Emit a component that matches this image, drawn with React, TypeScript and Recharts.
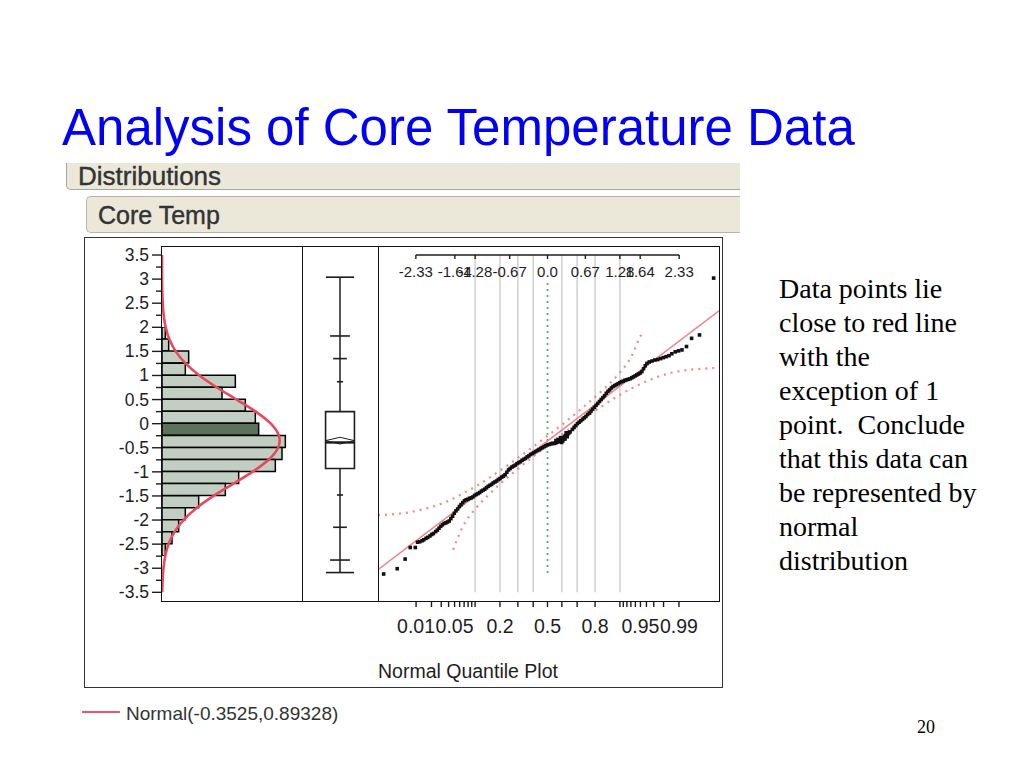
import React from 'react';
import {
  ComposedChart,
  Bar,
  Line,
  Scatter,
  XAxis,
  YAxis,
  ReferenceLine,
  ReferenceArea,
  Cell,
} from 'recharts';

const SANS = '"Liberation Sans", Arial, sans-serif';
const SERIF = '"Liberation Serif", "Times New Roman", serif';

// ---------- Histogram (Core Temp) ----------
const binCenters = [-2.625, -2.375, -2.125, -1.875, -1.625, -1.375, -1.125, -0.875, -0.625, -0.375, -0.125, 0.125, 0.375, 0.625, 0.875, 1.125, 1.375, 1.625, 1.875];
const binCounts = [1, 3, 5, 7, 11, 19, 23, 34, 36, 37, 29, 28, 25, 18, 22, 7, 8, 2, 1];
const binWidth = 0.25;
const highlightedBin = -0.125;

// fitted Normal(-0.3525, 0.89328) curve (count scale)
const curveValues = [-3.5, -3.25, -3, -2.75, -2.5, -2.25, -2, -1.75, -1.5, -1.25, -1, -0.75, -0.5, -0.35, -0.25, 0, 0.25, 0.5, 0.75, 1, 1.25, 1.5, 1.75, 2, 2.25, 2.5, 2.75, 3, 3.25, 3.5];
const curveHeights = [0.07, 0.18, 0.44, 0.96, 1.96, 3.7, 6.44, 10.38, 15.47, 21.31, 27.15, 31.97, 34.82, 35.3, 35.07, 32.66, 28.12, 22.39, 16.48, 11.22, 7.06, 4.11, 2.21, 1.1, 0.51, 0.22, 0.08, 0.03, 0.01, 0];

const yTicks = [-3.5, -3.25, -3, -2.75, -2.5, -2.25, -2, -1.75, -1.5, -1.25, -1, -0.75, -0.5, -0.25, 0, 0.25, 0.5, 0.75, 1, 1.25, 1.5, 1.75, 2, 2.25, 2.5, 2.75, 3, 3.25, 3.5];
const yMajorLabels = ['-3.5', '-3', '-2.5', '-2', '-1.5', '-1', '-0.5', '0', '0.5', '1', '1.5', '2', '2.5', '3', '3.5'];

// ---------- Outlier / quantile box plot ----------
const boxMax = 3.04;
const boxQ995 = 1.82;
const boxQ975 = 1.35;
const boxQ90 = 0.87;
const boxQ75 = 0.25;
const boxMedian = -0.39;
const boxQ25 = -0.93;
const boxQ10 = -1.48;
const boxQ025 = -2.15;
const boxQ005 = -2.83;
const boxMin = -3.09;
const boxMean = -0.3525;
const meanCI = 0.07;

// ---------- Normal quantile plot ----------
const qqPoints: [number, number][] = [
  [-2.9, -3.12], [-2.66, -3.01], [-2.52, -2.81], [-2.43, -2.57], [-2.34, -2.57],
  [-2.3, -2.46], [-2.26, -2.45], [-2.22, -2.43], [-2.19, -2.41], [-2.15, -2.38], [-2.12, -2.36], [-2.08, -2.33], [-2.05, -2.3], [-2.02, -2.28],
  [-1.98, -2.24], [-1.95, -2.21], [-1.92, -2.17], [-1.89, -2.13], [-1.86, -2.1], [-1.83, -2.07], [-1.8, -2.06], [-1.77, -2.04], [-1.74, -2.02],
  [-1.71, -1.97], [-1.68, -1.92], [-1.65, -1.86], [-1.62, -1.81], [-1.59, -1.77], [-1.56, -1.72], [-1.53, -1.68], [-1.5, -1.64], [-1.47, -1.6],
  [-1.44, -1.58], [-1.41, -1.57], [-1.38, -1.55], [-1.35, -1.54], [-1.32, -1.52], [-1.29, -1.49], [-1.26, -1.47], [-1.23, -1.45], [-1.2, -1.43],
  [-1.17, -1.4], [-1.14, -1.38], [-1.11, -1.36], [-1.08, -1.33], [-1.05, -1.3], [-1.02, -1.28], [-0.99, -1.26], [-0.96, -1.23], [-0.93, -1.21],
  [-0.9, -1.19], [-0.87, -1.16], [-0.84, -1.14], [-0.81, -1.11], [-0.78, -1.09], [-0.75, -1.06], [-0.72, -1.01], [-0.69, -0.96], [-0.66, -0.93],
  [-0.63, -0.9], [-0.6, -0.88], [-0.57, -0.86], [-0.54, -0.83], [-0.51, -0.81], [-0.48, -0.79], [-0.45, -0.76], [-0.42, -0.74], [-0.39, -0.72],
  [-0.36, -0.69], [-0.33, -0.67], [-0.3, -0.64], [-0.27, -0.62], [-0.24, -0.6], [-0.21, -0.58], [-0.18, -0.56], [-0.15, -0.54], [-0.12, -0.52],
  [-0.09, -0.5], [-0.06, -0.48], [-0.03, -0.46], [0, -0.44], [0.03, -0.43], [0.06, -0.42], [0.09, -0.41],
  [0.12, -0.41], [0.14, -0.4], [0.16, -0.39], [0.18, -0.38], [0.2, -0.37], [0.22, -0.35], [0.24, -0.33], [0.26, -0.31], [0.28, -0.29],
  [0.3, -0.27], [0.32, -0.25], [0.34, -0.23], [0.36, -0.21], [0.38, -0.19], [0.4, -0.17], [0.19, -0.33], [0.23, -0.29], [0.27, -0.36],
  [0.31, -0.32], [0.35, -0.27], [0.25, -0.39], [0.15, -0.35], [0.33, -0.19],
  [0.44, -0.12], [0.47, -0.08], [0.5, -0.04], [0.53, 0], [0.56, 0.03], [0.59, 0.06], [0.62, 0.09], [0.65, 0.12], [0.68, 0.15],
  [0.71, 0.19], [0.74, 0.22], [0.77, 0.26], [0.8, 0.3], [0.83, 0.34], [0.86, 0.38], [0.89, 0.42], [0.92, 0.46], [0.95, 0.5],
  [0.98, 0.54], [1.01, 0.58], [1.04, 0.63], [1.07, 0.67], [1.1, 0.7], [1.13, 0.74], [1.16, 0.77], [1.19, 0.79], [1.22, 0.81],
  [1.25, 0.83], [1.28, 0.85], [1.31, 0.87], [1.34, 0.88], [1.37, 0.9], [1.4, 0.91], [1.43, 0.92], [1.46, 0.93], [1.49, 0.95],
  [1.52, 0.97], [1.55, 0.99], [1.58, 1.01], [1.61, 1.03], [1.64, 1.05], [1.67, 1.08], [1.7, 1.14], [1.73, 1.2], [1.76, 1.25],
  [1.8, 1.28], [1.85, 1.3], [1.9, 1.32], [1.95, 1.33], [2.0, 1.35], [2.05, 1.37], [2.1, 1.39], [2.15, 1.41], [2.2, 1.45],
  [2.26, 1.49], [2.32, 1.51], [2.38, 1.53], [2.46, 1.6], [2.55, 1.77], [2.69, 1.84], [2.94, 3.02],
];

const fitLine: [number, number][] = [[-3.0, -3.03], [3.035, 2.34]];

const upperBand: [number, number][] = [
  [-3.0, -1.9], [-2.75, -1.88], [-2.5, -1.85], [-2.25, -1.79], [-2.0, -1.71], [-1.75, -1.6], [-1.5, -1.45], [-1.25, -1.29],
  [-1.0, -1.1], [-0.75, -0.9], [-0.5, -0.69], [-0.25, -0.475], [0, -0.25], [0.25, -0.03], [0.5, 0.21], [0.75, 0.46],
  [1.0, 0.72], [1.25, 1.02], [1.5, 1.43], [1.6, 1.7], [1.68, 1.9],
];
const lowerBand: [number, number][] = [
  [-1.67, -2.62], [-1.6, -2.4], [-1.5, -2.14], [-1.25, -1.73], [-1.0, -1.43], [-0.75, -1.16], [-0.5, -0.915], [-0.25, -0.68],
  [0, -0.45], [0.25, -0.23], [0.5, -0.015], [0.75, 0.19], [1.0, 0.39], [1.25, 0.575], [1.5, 0.74], [1.75, 0.88],
  [2.0, 0.99], [2.25, 1.07], [2.5, 1.115], [2.75, 1.14], [3.035, 1.16],
];

const decileZ = [-1.2816, -0.8416, -0.5244, -0.2533, 0.2533, 0.5244, 0.8416, 1.2816];
const greenLineTop = 2.92;
const greenLineBottom = -3.1;
const gridTop = 3.5;
const gridBottom = -3.5;

const topTickZ = [-2.33, -1.64, -1.28, -0.67, 0, 0.67, 1.28, 1.64, 2.33];
const topTickLabels = ['-2.33', '-1.64', '-1.28', '-0.67', '0.0', '0.67', '1.28', '1.64', '2.33'];

const probTickZ = [-2.3263, -2.0537, -1.8808, -1.7507, -1.6449, -1.5548, -1.4758, -1.4051, -1.3408, -1.2816, -0.8416, -0.5244, -0.2533, 0, 0.2533, 0.5244, 0.8416, 1.2816, 1.3408, 1.4051, 1.4758, 1.5548, 1.6449, 1.7507, 1.8808, 2.0537, 2.3263];
const probTickLabels = ['0.01', '', '', '', '0.05', '', '', '', '', '', '0.2', '', '', '0.5', '', '', '0.8', '', '', '', '', '', '0.95', '', '', '', '0.99'];

const legendLabel = 'Normal(-0.3525,0.89328)';

// ---------- geometry ----------
const V_MIN = -3.68;
const V_MAX = 3.687;
const PANEL_TOP = 246;
const PANEL_H = 355;
const vToY = (v: number) => PANEL_TOP + ((V_MAX - v) / (V_MAX - V_MIN)) * PANEL_H;

// ---------- derived tables ----------
const histData = binCenters.map((v, i) => ({ v, count: binCounts[i] })).slice().reverse();
const binsTopY = vToY(Math.max(...binCenters) + binWidth / 2);
const binsBottomY = vToY(Math.min(...binCenters) - binWidth / 2);
const curveData = curveValues.map((v, i) => ({ v, c: curveHeights[i] }));
const toZV = (arr: [number, number][]) => arr.map(([z, v]) => ({ z, v }));
const qqData = toZV(qqPoints);
const fitData = toZV(fitLine);
const upperData = toZV(upperBand);
const lowerData = toZV(lowerBand);

const INK = '#1e1e1e';

const HistTick = (props: any) => {
  const { x, y, payload } = props;
  const v = payload.value as number;
  const major = Math.abs(v * 2 - Math.round(v * 2)) < 1e-6;
  const label = yMajorLabels.find((s) => Math.abs(parseFloat(s) - v) < 1e-6);
  return (
    <g>
      <line x1={x - (major ? 10 : 6)} x2={x} y1={y} y2={y} stroke={INK} strokeWidth={1.4} />
      {major && label !== undefined && (
        <text x={x - 13} y={y + 6} textAnchor="end" fontSize={17.5} fill={INK} fontFamily={SANS}>
          {label}
        </text>
      )}
    </g>
  );
};

const TopTick = (props: any) => {
  const { x, y, payload } = props;
  const idx = topTickZ.findIndex((z) => Math.abs(z - payload.value) < 1e-6);
  return (
    <g>
      <line x1={x} x2={x} y1={y + 1} y2={y + 5} stroke={INK} strokeWidth={1.4} />
      <text x={x} y={y + 23} textAnchor="middle" fontSize={15} fill={INK} fontFamily={SANS}>
        {idx >= 0 ? topTickLabels[idx] : ''}
      </text>
    </g>
  );
};

const BottomTick = (props: any) => {
  const { x, y, payload } = props;
  const idx = probTickZ.findIndex((z) => Math.abs(z - payload.value) < 1e-6);
  const label = idx >= 0 ? probTickLabels[idx] : '';
  return (
    <g>
      <line x1={x} x2={x} y1={y + 1} y2={y + 6} stroke={INK} strokeWidth={1.4} />
      {label && (
        <text x={x} y={y + 32} textAnchor="middle" fontSize={19.5} fill={INK} fontFamily={SANS}>
          {label}
        </text>
      )}
    </g>
  );
};

const SquareDot = (props: any) => {
  const { cx, cy } = props;
  if (cx == null || cy == null) return null;
  return <rect x={cx - 1.8} y={cy - 1.8} width={3.6} height={3.6} fill="#111" />;
};

const abs = (l: number, t: number, w: number, h: number): React.CSSProperties => ({
  position: 'absolute',
  left: l,
  top: t,
  width: w,
  height: h,
});

export default function App() {
  const seg = (x1: number, y1: number, x2: number, y2: number, key: string, sw = 1.5, color = INK) => (
    <ReferenceLine
      key={key}
      segment={[{ x: x1, y: y1 }, { x: x2, y: y2 }]}
      stroke={color}
      strokeWidth={sw}
      ifOverflow="visible"
    />
  );

  const boxTicks: [number, number][] = [
    [boxMax, 0.37],
    [boxQ995, 0.26],
    [boxQ975, 0.18],
    [boxQ90, 0.08],
    [boxQ10, 0.08],
    [boxQ025, 0.18],
    [boxQ005, 0.26],
    [boxMin, 0.37],
  ];
  const bw = 0.38;
  const barsH = binsBottomY - binsTopY;

  return (
    <div style={{ position: 'absolute', left: 0, top: 0, width: 1024, height: 768, background: '#fff', overflow: 'hidden' }}>
      {/* Title */}
      <div style={{ ...abs(62, 102, 900, 60), fontFamily: SANS, fontSize: 51, lineHeight: '51px', color: '#0000f5', whiteSpace: 'nowrap' }}>
        Analysis of Core Temperature Data
      </div>

      {/* Distributions header */}
      <div
        style={{
          ...abs(66, 163, 674, 27),
          boxSizing: 'border-box',
          background: '#ebe8da',
          borderLeft: '1.5px solid #a9a69a',
          borderBottom: '1.5px solid #a9a69a',
          borderBottomLeftRadius: 5,
        }}
      />
      <div style={{ ...abs(78, 162, 300, 28), fontFamily: SANS, fontSize: 26, lineHeight: '28px', color: '#333', WebkitTextStroke: '0.4px #333' }}>
        Distributions
      </div>
      <div
        style={{
          ...abs(86, 196, 654, 37),
          boxSizing: 'border-box',
          background: '#ebe8da',
          border: '1.5px solid #b8b5a8',
          borderRight: 'none',
          borderRadius: '5px 0 0 5px',
        }}
      />
      <div style={{ ...abs(98, 200, 300, 30), fontFamily: SANS, fontSize: 25, lineHeight: '30px', color: '#333', WebkitTextStroke: '0.4px #333' }}>
        Core Temp
      </div>

      {/* Outer frame */}
      <div style={{ ...abs(84, 237, 639, 451), boxSizing: 'border-box', border: '1.5px solid #333' }} />

      {/* Histogram bars */}
      <div style={abs(162, binsTopY, 140, barsH)}>
        <ComposedChart width={140} height={barsH} layout="vertical" data={histData} barCategoryGap={0} margin={{ top: 0, right: 0, bottom: 0, left: 0 }}>
          <XAxis type="number" dataKey="count" domain={[0, 42]} allowDataOverflow hide />
          <YAxis type="category" dataKey="v" hide />
          <Bar dataKey="count" stroke="#000" strokeWidth={1.5} isAnimationActive={false}>
            {histData.map((d) => (
              <Cell key={d.v} fill={d.v === highlightedBin ? '#5a735a' : '#c2cec2'} />
            ))}
          </Bar>
        </ComposedChart>
      </div>

      {/* Histogram axis + normal curve */}
      <div style={abs(84, 240, 218, 365)}>
        <ComposedChart width={218} height={365} layout="vertical" margin={{ top: 6, right: 0, bottom: 4, left: 0 }}>
          <XAxis type="number" dataKey="c" domain={[0, 42]} allowDataOverflow hide />
          <YAxis
            type="number"
            dataKey="v"
            domain={[V_MIN, V_MAX]}
            reversed
            allowDataOverflow
            ticks={yTicks}
            interval={0}
            width={78}
            axisLine={false}
            tickLine={false}
            tickSize={0}
            tickMargin={0}
            tick={<HistTick />}
          />
          <Line data={curveData} dataKey="c" type="monotone" stroke="#e8495c" strokeWidth={2.6} dot={false} isAnimationActive={false} />
        </ComposedChart>
      </div>

      {/* Box plot */}
      <div style={abs(302, PANEL_TOP, 76, PANEL_H)}>
        <ComposedChart width={76} height={PANEL_H} margin={{ top: 0, right: 0, bottom: 0, left: 0 }}>
          <XAxis type="number" dataKey="x" domain={[-1, 1]} allowDataOverflow hide />
          <YAxis type="number" dataKey="v" domain={[V_MIN, V_MAX]} allowDataOverflow hide />
          <ReferenceArea x1={-bw} x2={bw} y1={boxQ25} y2={boxQ75} fill="#fff" fillOpacity={1} stroke={INK} strokeWidth={1.6} ifOverflow="visible" />
          {seg(0, boxMin, 0, boxQ25, 'wlo')}
          {seg(0, boxQ75, 0, boxMax, 'whi')}
          {boxTicks.map(([v, hw], i) => seg(-hw, v, hw, v, 't' + i, 1.6))}
          {seg(-bw, boxMedian, bw, boxMedian, 'med', 2.4)}
          {seg(-bw, boxMean, 0, boxMean + meanCI, 'd1', 1)}
          {seg(0, boxMean + meanCI, bw, boxMean, 'd2', 1)}
          {seg(bw, boxMean, 0, boxMean - meanCI, 'd3', 1)}
          {seg(0, boxMean - meanCI, -bw, boxMean, 'd4', 1)}
        </ComposedChart>
      </div>

      {/* Normal quantile plot */}
      <div style={abs(378, PANEL_TOP, 341, 395)}>
        <ComposedChart width={341} height={395} margin={{ top: 7, right: 0, bottom: 0, left: 0 }}>
          <XAxis
            xAxisId={0}
            type="number"
            dataKey="z"
            domain={[-3.0, 3.035]}
            allowDataOverflow
            ticks={probTickZ}
            interval={0}
            height={40}
            axisLine={false}
            tickLine={false}
            tickSize={0}
            tickMargin={0}
            tick={<BottomTick />}
          />
          <XAxis
            xAxisId="top"
            orientation="top"
            type="number"
            dataKey="z"
            domain={[-3.0, 3.035]}
            allowDataOverflow
            ticks={topTickZ}
            interval={0}
            height={1}
            axisLine={false}
            tickLine={false}
            tickSize={0}
            tickMargin={0}
            tick={<TopTick />}
          />
          <YAxis type="number" dataKey="v" domain={[-3.68, 3.52]} allowDataOverflow hide />
          {decileZ.map((z, i) => seg(z, gridTop, z, gridBottom, 'g' + i, 1.6, '#d2d2d2'))}
          <ReferenceLine
            segment={[{ x: 0, y: greenLineTop }, { x: 0, y: greenLineBottom }]}
            stroke="#4fb85a"
            strokeWidth={1.8}
            strokeDasharray="2 4"
            ifOverflow="visible"
          />
          {seg(topTickZ[0], gridTop, topTickZ[topTickZ.length - 1], gridTop, 'topaxis', 1.5)}
          <Scatter data={qqData} shape={<SquareDot />} isAnimationActive={false} />
          <Line data={fitData} dataKey="v" type="linear" stroke="#f08585" strokeWidth={1.5} dot={false} isAnimationActive={false} />
          <Line data={upperData} dataKey="v" type="monotone" stroke="#f08a8a" strokeWidth={2.2} strokeDasharray="2 5" dot={false} isAnimationActive={false} />
          <Line data={lowerData} dataKey="v" type="monotone" stroke="#f08a8a" strokeWidth={2.2} strokeDasharray="2 5" dot={false} isAnimationActive={false} />
        </ComposedChart>
      </div>

      {/* Panel borders */}
      <div style={{ ...abs(161, PANEL_TOP, 559, PANEL_H + 1), boxSizing: 'border-box', border: '1.5px solid #111' }} />
      <div style={{ ...abs(301.5, PANEL_TOP, 1.5, PANEL_H + 1), background: '#111' }} />
      <div style={{ ...abs(377.5, PANEL_TOP, 1.5, PANEL_H + 1), background: '#111' }} />

      <div style={{ ...abs(378, 660, 300, 22), fontFamily: SANS, fontSize: 19.5, lineHeight: '22px', color: INK, whiteSpace: 'nowrap' }}>
        Normal Quantile Plot
      </div>

      {/* Legend */}
      <div style={{ ...abs(82, 711, 38, 2), background: '#ee5566' }} />
      <div style={{ ...abs(126, 704, 300, 20), fontFamily: SANS, fontSize: 19, lineHeight: '20px', color: '#333', whiteSpace: 'nowrap' }}>
        {legendLabel}
      </div>

      {/* Side note */}
      <div style={{ ...abs(779, 272, 240, 320), fontFamily: SERIF, fontSize: 28, lineHeight: '34px', color: '#000', whiteSpace: 'pre' }}>
        {'Data points lie\nclose to red line\nwith the\nexception of 1\npoint.  Conclude\nthat this data can\nbe represented by\nnormal\ndistribution'}
      </div>

      {/* Page number */}
      <div style={{ ...abs(917, 718, 40, 20), fontFamily: SERIF, fontSize: 18, lineHeight: '18px', color: '#000' }}>20</div>
    </div>
  );
}
